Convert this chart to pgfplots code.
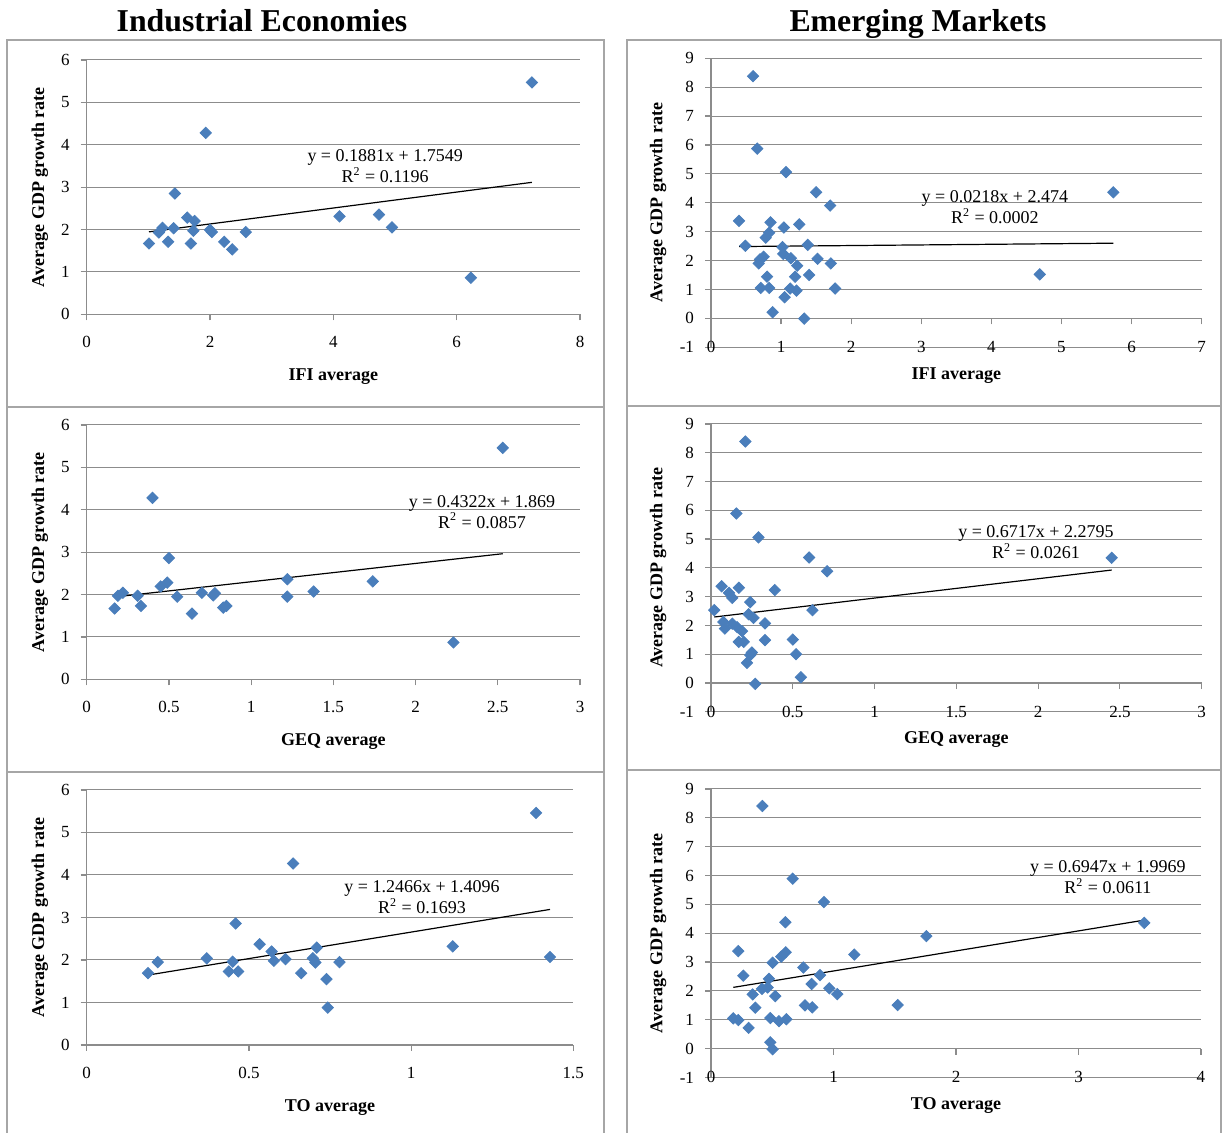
\documentclass[border=0pt]{standalone}
\usepackage{fontspec}
\setmainfont{Liberation Serif}
\usepackage{pgfplots}
\pgfplotsset{compat=1.18}

\definecolor{ptblue}{HTML}{4A7EBB}
\definecolor{gridgray}{HTML}{8C8C8C}
\definecolor{boxgray}{HTML}{A6A6A6}

\tikzset{eq/.style={font=\fontsize{9}{10.5}\selectfont, align=center}}

\pgfplotsset{
  panel/.style={
    scale only axis, anchor=south west,
    axis line style={draw=gridgray, line width=0.6pt},
    tick style={draw=gridgray, line width=0.6pt},
    major tick length=3pt, tick align=outside,
    ymajorgrids, grid style={draw=gridgray, line width=0.5pt},
    ticklabel style={font=\fontsize{8.5}{10}\selectfont},
    /pgf/number format/assume math mode=true,
    yticklabel style={anchor=east, xshift=-2pt},
    xlabel style={font=\bfseries\fontsize{9}{11}\selectfont, anchor=center},
    ylabel style={font=\bfseries\fontsize{9}{11}\selectfont, anchor=center},
    ylabel={Average GDP growth rate},
  },
  ind/.style={panel,
    ymin=0, ymax=6, ytick={0,1,...,6},
    axis x line*=bottom, axis y line*=left,
    xticklabel style={anchor=center, yshift=-11pt},
    xlabel style={at={(axis description cs:0.5,-0.244)}},
    ylabel style={at={(axis description cs:-0.0947,0.5)}},
  },
  emg/.style={panel,
    ymin=-1, ymax=9, ytick={-1,0,...,9},
    axis x line*=middle, axis y line*=left,
    tick align=outside,
    hide obscured x ticks=false, hide obscured y ticks=false,
    xticklabel style={anchor=center, yshift=-11.3pt},
    xlabel style={at={(axis description cs:0.5,-0.097)}},
    ylabel style={at={(axis description cs:-0.108,0.5)}},
  },
  pts/.style={only marks, mark=square*, mark size=2pt,
    mark options={rotate=45, fill=ptblue, draw=ptblue}},
  trend/.style={black, line width=0.6pt, no marks},
}

\begin{document}
\begin{tikzpicture}
\useasboundingbox (0,0) rectangle (611pt,566.5pt);

% panel frames
\draw[boxgray, line width=0.8pt] (3.5pt,546.5pt) rectangle (302pt,363pt);
\draw[boxgray, line width=0.8pt] (3.5pt,363pt) rectangle (302pt,180.5pt);
\draw[boxgray, line width=0.8pt] (3.5pt,180.5pt) rectangle (302pt,-5pt);
\draw[boxgray, line width=0.8pt] (313.5pt,546.5pt) rectangle (610.6pt,363.5pt);
\draw[boxgray, line width=0.8pt] (313.5pt,363.5pt) rectangle (610.6pt,181.5pt);
\draw[boxgray, line width=0.8pt] (313.5pt,181.5pt) rectangle (610.6pt,-5pt);

\node[font=\bfseries\fontsize{15.9}{18}\selectfont, anchor=base] at (131pt,550.5pt) {Industrial Economies};
\node[font=\bfseries\fontsize{15.9}{18}\selectfont, anchor=base] at (459pt,550.5pt) {Emerging Markets};

% ---- Industrial: IFI
\begin{axis}[ind, at={(43.35pt,409.35pt)}, width=246.67pt, height=127.15pt,
  xmin=0, xmax=8, xtick={0,2,4,6,8}, xlabel={IFI average}]
\addplot[pts] coordinates {
(7.22,5.47)(1.93,4.28)(1.43,2.85)(1.63,2.28)(1.75,2.20)(1.73,1.97)(1.23,2.04)
(1.17,1.93)(1.41,2.03)(1.32,1.71)(1.01,1.67)(1.69,1.67)(2.00,1.99)(2.03,1.94)
(2.23,1.71)(2.36,1.53)(2.58,1.94)(4.10,2.31)(4.74,2.35)(4.95,2.05)(6.23,0.86)};
\addplot[trend] coordinates {(1.01,1.945)(7.22,3.113)};
\node[eq] at (axis cs:4.84,3.49) {y = 0.1881x + 1.7549\\R\textsuperscript{2} = 0.1196};
\end{axis}

% ---- Industrial: GEQ
\begin{axis}[ind, at={(43.35pt,226.85pt)}, width=246.67pt, height=127.15pt,
  xmin=0, xmax=3, xtick={0,0.5,...,3}, xlabel={GEQ average}]
\addplot[pts] coordinates {
(2.53,5.46)(0.40,4.28)(0.50,2.86)(0.49,2.28)(0.45,2.19)(0.19,1.97)(0.22,2.04)
(0.31,1.97)(0.17,1.67)(0.33,1.73)(0.55,1.95)(0.64,1.55)(0.70,2.04)(0.77,1.98)
(0.78,2.03)(0.83,1.69)(0.85,1.73)(1.22,2.36)(1.22,1.95)(1.38,2.07)(1.74,2.31)
(2.23,0.87)};
\addplot[trend] coordinates {(0.17,1.9425)(2.53,2.9625)};
\node[eq] at (axis cs:2.404,3.947) {y = 0.4322x + 1.869\\R\textsuperscript{2} = 0.0857};
\end{axis}

% ---- Industrial: TO
\begin{axis}[ind, at={(43.35pt,44pt)}, width=243.33pt, height=127.5pt,
  xmin=0, xmax=1.5, xtick={0,0.5,1,1.5}, xlabel={TO average},
  ylabel style={at={(axis description cs:-0.096,0.5)}}]
\addplot[pts] coordinates {
(1.385,5.46)(0.636,4.27)(0.459,2.86)(0.533,2.37)(0.570,2.20)(0.709,2.29)
(1.128,2.32)(0.219,1.95)(0.370,2.04)(0.450,1.96)(0.577,1.98)(0.613,2.02)
(0.697,2.04)(0.705,1.94)(0.779,1.95)(1.428,2.07)(0.189,1.69)(0.438,1.73)
(0.467,1.73)(0.661,1.69)(0.739,1.55)(0.743,0.88)};
\addplot[trend] coordinates {(0.189,1.6452)(1.428,3.1898)};
\node[eq] at (axis cs:1.0336,3.47) {y = 1.2466x + 1.4096\\R\textsuperscript{2} = 0.1693};
\end{axis}

% ---- Emerging: IFI
\begin{axis}[emg, at={(355.5pt,392.9pt)}, width=245.33pt, height=144.45pt,
  xmin=0, xmax=7, xtick={0,1,...,7}, xlabel={IFI average}]
\addplot[pts] coordinates {
(0.60,8.38)(0.66,5.87)(1.07,5.06)(1.50,4.36)(1.70,3.90)(5.74,4.36)(0.40,3.37)
(0.85,3.32)(1.26,3.25)(1.04,3.14)(0.83,2.96)(0.78,2.79)(0.49,2.51)(1.02,2.46)
(1.38,2.54)(0.75,2.13)(0.70,2.04)(0.68,1.90)(1.03,2.23)(1.14,2.08)(1.52,2.06)
(1.71,1.90)(1.23,1.82)(0.80,1.44)(1.20,1.44)(1.40,1.50)(0.71,1.05)(0.83,1.05)
(1.13,1.03)(1.22,0.96)(1.77,1.03)(1.05,0.73)(0.88,0.21)(1.33,-0.01)(4.69,1.52)};
\addplot[trend] coordinates {(0.40,2.4827)(5.74,2.5991)};
\node[eq] at (axis cs:4.05,3.835) {y = 0.0218x + 2.474\\R\textsuperscript{2} = 0.0002};
\end{axis}

% ---- Emerging: GEQ
\begin{axis}[emg, at={(355.5pt,210.6pt)}, width=245.33pt, height=143.9pt,
  xmin=0, xmax=3, xtick={0,0.5,...,3}, xlabel={GEQ average}]
\addplot[pts] coordinates {
(0.21,8.39)(0.155,5.89)(0.29,5.06)(0.60,4.36)(0.71,3.88)(2.45,4.35)(0.065,3.36)
(0.17,3.31)(0.39,3.23)(0.11,3.13)(0.13,2.96)(0.24,2.81)(0.02,2.53)(0.62,2.53)
(0.23,2.39)(0.26,2.26)(0.075,2.12)(0.13,2.06)(0.33,2.07)(0.085,1.89)(0.16,1.94)
(0.19,1.80)(0.17,1.43)(0.20,1.43)(0.33,1.49)(0.50,1.51)(0.25,1.06)(0.24,0.97)
(0.22,0.70)(0.52,1.00)(0.55,0.20)(0.27,-0.03)};
\addplot[trend] coordinates {(0.02,2.2929)(2.45,3.9252)};
\node[eq] at (axis cs:1.987,4.88) {y = 0.6717x + 2.2795\\R\textsuperscript{2} = 0.0261};
\end{axis}

% ---- Emerging: TO
\begin{axis}[emg, at={(355.5pt,27.75pt)}, width=245pt, height=144.25pt,
  xmin=0, xmax=4, xtick={0,1,...,4}, xlabel={TO average}]
\addplot[pts] coordinates {
(0.42,8.41)(0.667,5.89)(0.922,5.08)(0.607,4.38)(1.758,3.90)(3.537,4.36)
(0.223,3.38)(0.61,3.34)(1.17,3.26)(0.574,3.19)(0.503,2.98)(0.754,2.81)
(0.264,2.53)(0.89,2.55)(0.473,2.42)(0.822,2.24)(0.416,2.07)(0.462,2.12)
(0.966,2.09)(0.34,1.88)(1.031,1.89)(0.525,1.82)(0.362,1.42)(0.767,1.50)
(0.827,1.43)(1.524,1.51)(0.182,1.05)(0.223,0.99)(0.484,1.06)(0.555,0.95)
(0.615,1.02)(0.307,0.72)(0.484,0.22)(0.503,-0.02)};
\addplot[trend] coordinates {(0.182,2.1233)(3.537,4.4540)};
\node[eq] at (axis cs:3.24,5.93) {y = 0.6947x + 1.9969\\R\textsuperscript{2} = 0.0611};
\end{axis}
\end{tikzpicture}
\end{document}
